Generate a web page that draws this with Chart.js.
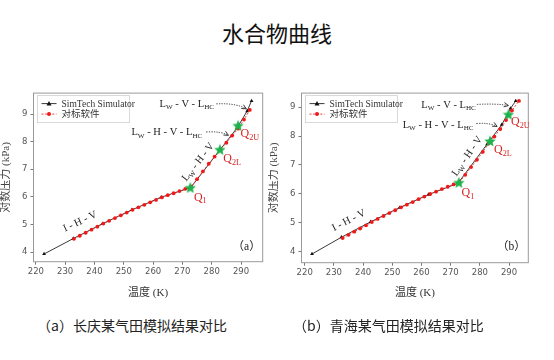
<!DOCTYPE html>
<html>
<head>
<meta charset="utf-8">
<script src="https://cdn.jsdelivr.net/npm/chart.js@4"></script>
<style>
  body { margin: 0; width: 554px; height: 360px; background: #fff; position: relative; overflow: hidden;
         font-family: "Noto Sans CJK SC", sans-serif; }
  #title { position: absolute; left: 0; top: 17px; width: 554px; text-align: center; font-size: 22px; line-height: 30px; color: #111; }
  .cap { position: absolute; top: 315px; font-size: 14px; line-height: 20px; color: #222; white-space: nowrap; }
  .box { position: absolute; top: 85px; width: 270px; height: 215px; }
</style>
</head>
<body>
<div id="title">水合物曲线</div>
<div class="box" style="left:0px"><canvas id="chartA"></canvas></div>
<div class="box" style="left:268px"><canvas id="chartB"></canvas></div>
<div class="cap" style="left:37px">（a）长庆某气田模拟结果对比</div>
<div class="cap" style="left:293px">（b）青海某气田模拟结果对比</div>
<script>
// temperature ticks (K)
const xTicks = [220, 230, 240, 250, 260, 270, 280, 290];
const yTicks = [4, 5, 6, 7, 8, 9];

// (a) Changqing - SimTech Simulator
const simTempA = [222.8, 232.8, 242.8, 252.8, 262.8, 272.8, 282.8, 288.6, 292.1, 293.6];
const simLogPA = [3.93, 4.49, 5.03, 5.53, 5.99, 6.33, 7.70, 8.49, 9.11, 9.48];
// (a) benchmark software
const refTempA = [233, 235, 237, 239, 241, 243, 245, 247, 249, 251, 253, 255, 257, 259, 261, 263,
                  265, 267, 269, 271, 273, 275, 277, 279, 281, 283, 285, 287, 289, 291, 293];
const refLogPA = [4.48, 4.59, 4.70, 4.81, 4.92, 5.03, 5.13, 5.23, 5.33, 5.43, 5.53, 5.62, 5.71, 5.80, 5.89, 5.98,
                  6.06, 6.13, 6.21, 6.29, 6.37, 6.64, 6.92, 7.20, 7.46, 7.72, 7.96, 8.22, 8.47, 8.80, 9.15];
// (a) quadruple points Q1, Q2L, Q2U
const qTempA = [272.7, 282.8, 289.0];
const qLogPA = [6.34, 7.72, 8.59];

// (b) Qinghai - SimTech Simulator
const simTempB = [222.5, 232.6, 242.6, 252.5, 262.4, 272.5, 282.5, 287.5, 290.5, 292.3];
const simLogPB = [3.93, 4.51, 5.04, 5.53, 5.98, 6.37, 7.72, 8.39, 8.95, 9.21];
// (b) benchmark software
const refTempB = [233, 235, 237, 239, 241, 243, 245, 247, 249, 251, 253, 255, 257, 259, 261, 263,
                  265, 267, 269, 271, 273, 275, 277, 279, 281, 283, 285, 287, 289, 291, 293.4];
const refLogPB = [4.48, 4.59, 4.70, 4.81, 4.92, 5.03, 5.14, 5.24, 5.34, 5.44, 5.54, 5.63, 5.72, 5.82, 5.91, 6.00,
                  6.08, 6.17, 6.25, 6.33, 6.41, 6.66, 6.93, 7.18, 7.45, 7.74, 7.98, 8.24, 8.55, 8.88, 9.21];
const qTempB = [272.8, 283.5, 289.8];
const qLogPB = [6.40, 7.83, 8.75];

const qNames = ['Q_1', 'Q_2L', 'Q_2U'];

const SERIF = '"Liberation Serif", "DejaVu Serif", "Noto Sans CJK SC", serif';

// green filled star used as point style
function makeStar(size, color) {
  const c = document.createElement('canvas');
  c.width = size; c.height = size;
  const g = c.getContext('2d');
  const r = size / 2, ri = r * 0.45;
  g.beginPath();
  for (let i = 0; i < 10; i++) {
    const rad = i % 2 ? ri : r;
    const a = -Math.PI / 2 + i * Math.PI / 5;
    const px = r + rad * Math.cos(a), py = r + 0.6 + rad * Math.sin(a);
    i ? g.lineTo(px, py) : g.moveTo(px, py);
  }
  g.closePath();
  g.fillStyle = color;
  g.fill();
  return c;
}
const star = makeStar(12, '#1db24b');

function pts(xs, ys) { return xs.map((x, i) => ({ x: x, y: ys[i] })); }

// split "L_W - V - L_HC" into normal / subscript parts
function parts(str) {
  return str.split(/(_[A-Za-z0-9]+)/).filter(s => s).map(s => s[0] === '_' ? [s.slice(1), true] : [s, false]);
}
function drawRich(ctx, str, x, y, size, color, angle) {
  const ps = parts(str);
  let w = 0;
  ps.forEach(p => { ctx.font = (p[1] ? size * 0.68 : size) + 'px ' + SERIF; w += ctx.measureText(p[0]).width; });
  ctx.save();
  ctx.translate(x, y);
  ctx.rotate((angle || 0) * Math.PI / 180);
  ctx.fillStyle = color;
  ctx.textBaseline = 'middle';
  ctx.textAlign = 'left';
  let cx = -w / 2;
  ps.forEach(p => {
    ctx.font = (p[1] ? size * 0.68 : size) + 'px ' + SERIF;
    ctx.fillText(p[0], cx, p[1] ? size * 0.3 : 0);
    cx += ctx.measureText(p[0]).width;
  });
  ctx.restore();
}

const decor = {
  id: 'decor',
  afterDatasetsDraw(chart, args, opts) {
    const { ctx, chartArea: a, scales: { x, y } } = chart;
    ctx.save();
    // frame
    ctx.strokeStyle = '#9a9a9a';
    ctx.lineWidth = 1;
    ctx.strokeRect(a.left, a.top, a.right - a.left, a.bottom - a.top);
    // notes
    opts.notes.forEach(n => {
      drawRich(ctx, n.t, x.getPixelForValue(n.x), y.getPixelForValue(n.y), n.s || 10.5, n.c || '#222', n.r);
    });
    // dotted arrows
    opts.arrows.forEach(ar => {
      const x0 = x.getPixelForValue(ar[0]), y0 = y.getPixelForValue(ar[1]);
      const x1 = x.getPixelForValue(ar[2]), y1 = y.getPixelForValue(ar[3]);
      const mx = x1 - (x1 - x0) * 0.35, my = y0 - 1;
      ctx.strokeStyle = '#222';
      ctx.lineWidth = 0.9;
      ctx.setLineDash([1.2, 1.3]);
      ctx.beginPath();
      ctx.moveTo(x0, y0);
      ctx.quadraticCurveTo(mx, my, x1, y1);
      ctx.stroke();
      ctx.setLineDash([]);
      const ang = Math.atan2(y1 - my, x1 - mx);
      ctx.beginPath();
      ctx.moveTo(x1 - 5 * Math.cos(ang - 0.45), y1 - 5 * Math.sin(ang - 0.45));
      ctx.lineTo(x1, y1);
      ctx.lineTo(x1 - 5 * Math.cos(ang + 0.45), y1 - 5 * Math.sin(ang + 0.45));
      ctx.stroke();
    });
    // legend
    const lx = a.left + 4, ly = a.top + 2.5;
    ctx.fillStyle = 'rgba(255,255,255,0.9)';
    ctx.strokeStyle = '#d0d0d0';
    ctx.lineWidth = 0.8;
    ctx.fillRect(lx, ly, 92, 27);
    ctx.strokeRect(lx, ly, 92, 27);
    const rows = [chart.data.datasets[2], chart.data.datasets[1]];
    rows.forEach((ds, i) => {
      const ry = ly + 8 + i * 10.5;
      ctx.strokeStyle = ds.borderColor;
      ctx.lineWidth = ds.borderWidth;
      ctx.setLineDash(ds.borderDash || []);
      ctx.beginPath(); ctx.moveTo(lx + 4, ry); ctx.lineTo(lx + 19, ry); ctx.stroke();
      ctx.setLineDash([]);
      ctx.fillStyle = ds.pointBackgroundColor;
      ctx.beginPath();
      if (ds.pointStyle === 'triangle') {
        ctx.moveTo(lx + 11.5, ry - 2.6); ctx.lineTo(lx + 14, ry + 1.8); ctx.lineTo(lx + 9, ry + 1.8);
      } else {
        ctx.arc(lx + 11.5, ry, 2, 0, Math.PI * 2);
      }
      ctx.fill();
      ctx.fillStyle = '#333';
      ctx.font = '9.5px ' + SERIF;
      ctx.textBaseline = 'middle';
      ctx.fillText(ds.label, lx + 24, ry + 0.5);
    });
    ctx.restore();
  }
};

function makeChart(id, sim, ref, q, range, notes, arrows, padRight) {
  return new Chart(document.getElementById(id), {
    type: 'line',
    data: {
      datasets: [
        {
          label: 'Q', data: q, showLine: false, pointStyle: star,
          pointRadius: 6, borderColor: '#1db24b', pointBackgroundColor: '#1db24b'
        },
        {
          label: '对标软件', data: ref, borderColor: '#ee2a2a', borderWidth: 0.9, borderDash: [2, 1.6],
          pointStyle: 'circle', pointRadius: 1.9, pointBorderWidth: 0,
          pointBackgroundColor: '#f01818', tension: 0
        },
        {
          label: 'SimTech Simulator', data: sim, borderColor: '#3a3a3a', borderWidth: 1,
          pointStyle: 'triangle', pointRadius: 2.2, pointBorderWidth: 0,
          pointBackgroundColor: '#111', tension: 0
        }
      ]
    },
    options: {
      responsive: true,
      maintainAspectRatio: false,
      animation: false,
      layout: { padding: { top: 7.7, right: padRight, left: 0, bottom: 0 } },
      plugins: {
        legend: { display: false },
        tooltip: { enabled: false },
        decor: { notes: notes, arrows: arrows }
      },
      scales: {
        x: {
          type: 'linear', min: range[0], max: range[1],
          afterBuildTicks: s => { s.ticks = xTicks.map(v => ({ value: v })); },
          afterFit: s => { s.height = range[4]; },
          border: { display: false },
          grid: { drawOnChartArea: false, drawTicks: true, tickLength: 3, color: '#777' },
          ticks: { color: '#555', font: { size: 8.5, family: 'DejaVu Sans' }, padding: 2, maxRotation: 0 },
          title: { display: true, text: '温度 (K)', color: '#333', font: { size: 11, family: SERIF }, padding: { top: 2, bottom: 0 } }
        },
        y: {
          min: range[2], max: range[3],
          afterBuildTicks: s => { s.ticks = yTicks.map(v => ({ value: v })); },
          afterFit: s => { s.width = 33.5; },
          border: { display: false },
          grid: { drawOnChartArea: false, drawTicks: true, tickLength: 3, color: '#777' },
          ticks: { color: '#555', font: { size: 8.5, family: 'DejaVu Sans' }, padding: 3 },
          title: { display: true, text: '对数压力 (kPa)', color: '#444', font: { size: 11, family: SERIF }, padding: { top: 0, bottom: 0 } }
        }
      }
    },
    plugins: [decor]
  });
}

makeChart('chartA',
  pts(simTempA, simLogPA), pts(refTempA, refLogPA), pts(qTempA, qLogPA),
  [219.2, 297.4, 3.65, 9.76, 38.3],
  [
    { t: 'I - H - V', x: 235.1, y: 5.1, r: -25 },
    { t: 'L_W - H - V', x: 275.4, y: 7.26, r: -52 },
    { t: 'L_W - V - L_HC', x: 271.5, y: 9.37 },
    { t: 'L_W - H - V - L_HC', x: 264.7, y: 8.33 },
    { t: qNames[0], x: 276.1, y: 5.98, c: '#d81e1e', s: 12 },
    { t: qNames[1], x: 287.0, y: 7.36, c: '#d81e1e', s: 12 },
    { t: qNames[2], x: 293.0, y: 8.28, c: '#d81e1e', s: 12 },
    { t: '（a）', x: 291.9, y: 4.19, s: 11.5 }
  ],
  [[281.6, 9.37, 291.8, 9.19], [278.1, 8.35, 285.7, 8.23]],
  7.3);

makeChart('chartB',
  pts(simTempB, simLogPB), pts(refTempB, refLogPB), pts(qTempB, qLogPB),
  [218.9, 296.6, 3.63, 9.48, 37.3],
  [
    { t: 'I - H - V', x: 235.1, y: 5.08, r: -27 },
    { t: 'L_W - H - V', x: 275.7, y: 7.30, r: -55 },
    { t: 'L_W - V - L_HC', x: 269.3, y: 9.06 },
    { t: 'L_W - H - V - L_HC', x: 265.7, y: 8.37 },
    { t: qNames[0], x: 275.9, y: 6.04, c: '#d81e1e', s: 12 },
    { t: qNames[1], x: 287.9, y: 7.51, c: '#d81e1e', s: 12 },
    { t: qNames[2], x: 293.9, y: 8.48, c: '#d81e1e', s: 12 },
    { t: '（b）', x: 290.8, y: 4.18, s: 11.5 }
  ],
  [[279.0, 9.09, 289.8, 9.05], [278.8, 8.43, 285.9, 8.33]],
  9.7);
</script>
</body>
</html>
